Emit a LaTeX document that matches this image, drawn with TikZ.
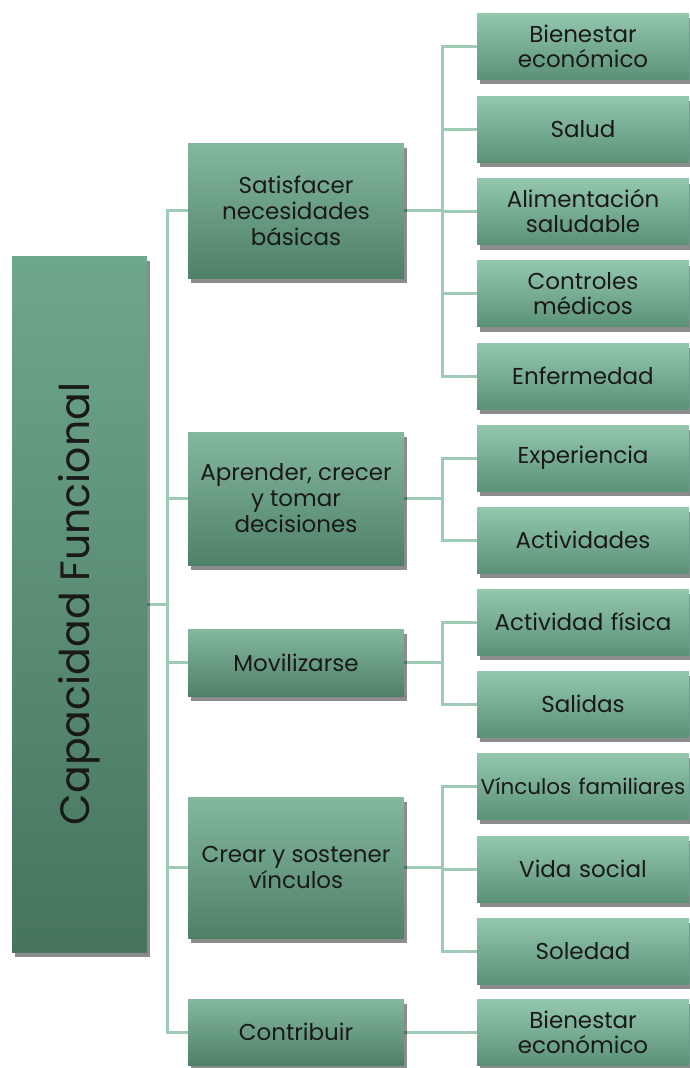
\documentclass[tikz,border=0pt]{standalone}
\usepackage{fontspec}
\setmainfont{Poppins}
\usetikzlibrary{shadows,backgrounds}
\definecolor{leafT}{HTML}{93C8AF}
\definecolor{leafB}{HTML}{5B9176}
\definecolor{midT}{HTML}{84B89E}
\definecolor{midB}{HTML}{4E8167}
\definecolor{rootT}{HTML}{6FA78C}
\definecolor{rootB}{HTML}{46745D}
\definecolor{lineC}{HTML}{9DCBB5}
\tikzset{
  box/.style={rectangle, inner sep=1pt, align=center, text=black!90,
    drop shadow={shadow xshift=3pt, shadow yshift=-5pt, opacity=0.45, fill=black}},
  leaf/.style={box, top color=leafT, bottom color=leafB, text width=210pt, minimum height=66pt,
    font=\fontsize{23}{25}\selectfont},
  mid/.style={box, top color=midT, bottom color=midB, minimum width=216pt,
    font=\fontsize{23}{26}\selectfont},
  rootbox/.style={box, top color=rootT, bottom color=rootB, minimum width=135pt, minimum height=696pt},
  conn/.style={draw=lineC, line width=3pt}
}
\begin{document}
\begin{tikzpicture}[x=1pt,y=-1pt]
\useasboundingbox (0,0) rectangle (689,1068);
% root
\node[rootbox] (root) at (79.5,604) {};
\node[rotate=90, font=\fontsize{41}{46}\selectfont, text=black!90] (roottext) at (root.center) {Capacidad Funcional};
% mid
\node[mid, minimum height=135pt] (m1) at (296,210.5) {Satisfacer\\necesidades\\básicas};
\node[mid, minimum height=133pt] (m2) at (296,498.5) {Aprender, crecer\\y tomar\\decisiones};
\node[mid, minimum height=67pt] (m3) at (296,662.5) {Movilizarse};
\node[mid, minimum height=141pt] (m4) at (296,867.5) {Crear y sostener\\vínculos};
\node[mid, minimum height=66pt] (m5) at (296,1032) {Contribuir};
% leaves
\node[leaf] (l1) at (583,46) {Bienestar\\económico};
\node[leaf] (l2) at (583,129) {Salud};
\node[leaf] (l3) at (583,211.5) {Alimentación\\saludable};
\node[leaf] (l4) at (583,293.5) {Controles\\médicos};
\node[leaf] (l5) at (583,376) {Enfermedad};
\node[leaf] (l6) at (583,458) {Experiencia};
\node[leaf] (l7) at (583,540) {Actividades};
\node[leaf] (l8) at (583,622) {Actividad física};
\node[leaf] (l9) at (583,704) {Salidas};
\node[leaf, font=\fontsize{21.5}{25}\selectfont] (l10) at (583,786) {Vínculos familiares};
\node[leaf] (l11) at (583,869) {Vida social};
\node[leaf] (l12) at (583,951) {Soledad};
\node[leaf] (l13) at (583,1032) {Bienestar\\económico};
% connectors
\coordinate (tr) at (167,604);
\coordinate (b1) at (442,210.5);
\coordinate (b2) at (442,498.5);
\coordinate (b3) at (442,662.5);
\coordinate (b4) at (442,867.5);
\begin{scope}[on background layer]
\draw[conn] (root.east) -- (tr);
\foreach \m in {m1,m2,m3,m4,m5} \draw[conn] (tr) |- (\m.west);
\draw[conn] (m1.east) -- (b1);
\foreach \l in {l1,l2,l3,l4,l5} \draw[conn] (b1) |- (\l.west);
\draw[conn] (m2.east) -- (b2);
\foreach \l in {l6,l7} \draw[conn] (b2) |- (\l.west);
\draw[conn] (m3.east) -- (b3);
\foreach \l in {l8,l9} \draw[conn] (b3) |- (\l.west);
\draw[conn] (m4.east) -- (b4);
\foreach \l in {l10,l11,l12} \draw[conn] (b4) |- (\l.west);
\draw[conn] (m5.east) -- (l13.west);
\end{scope}
\end{tikzpicture}
\end{document}
